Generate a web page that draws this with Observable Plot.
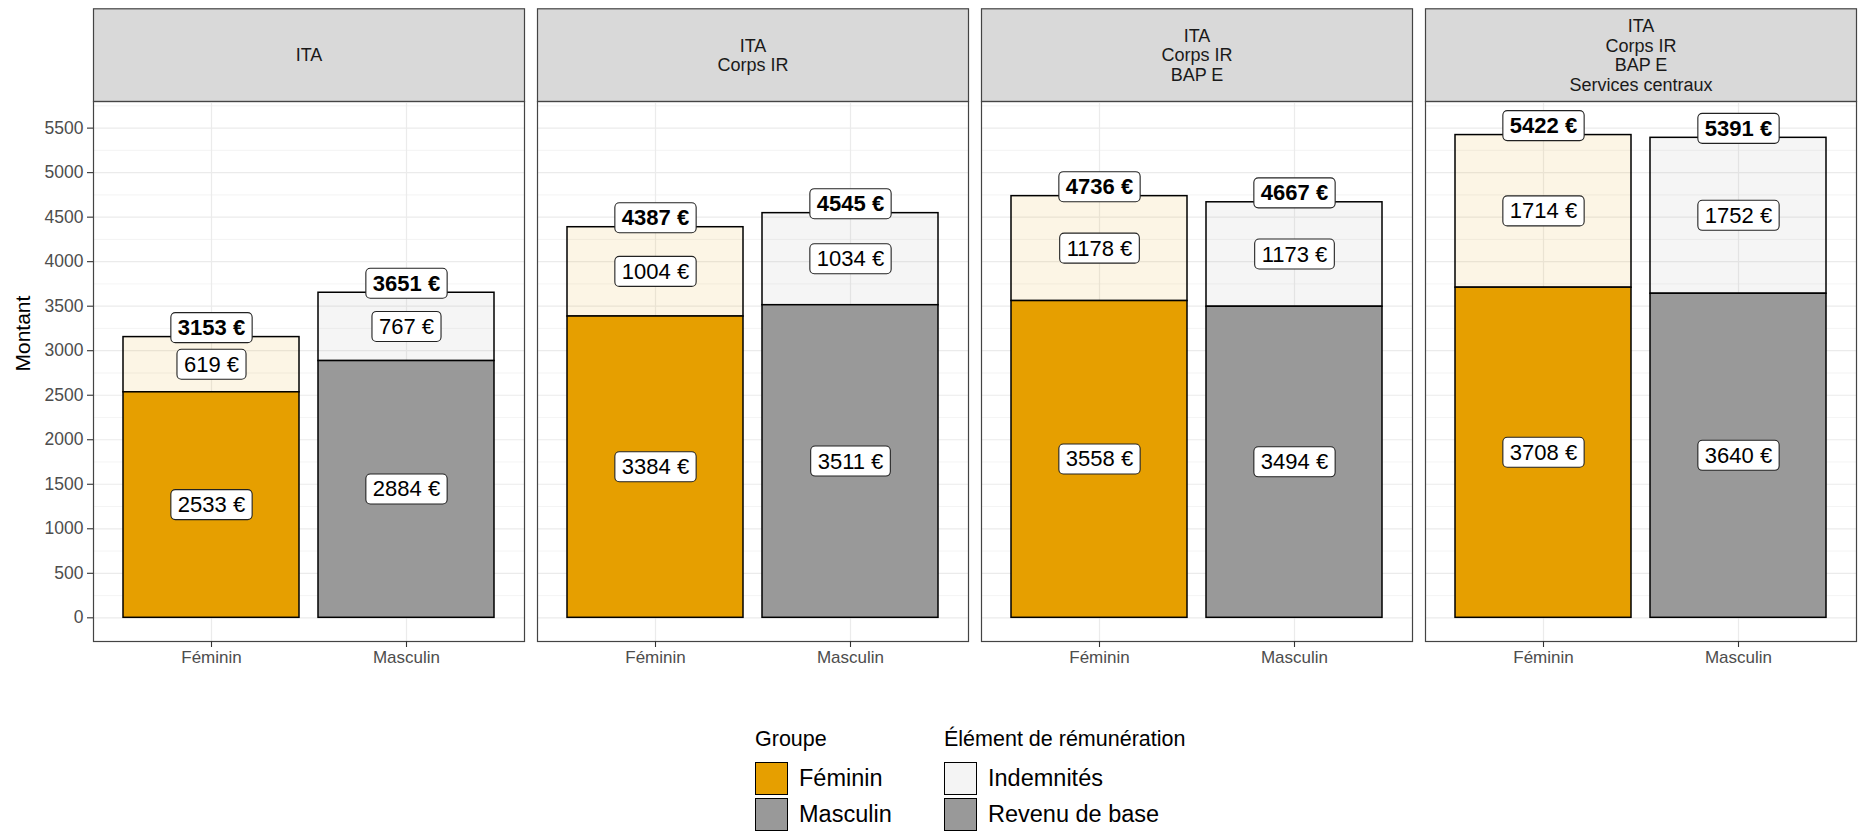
<!DOCTYPE html>
<html>
<head>
<meta charset="utf-8">
<script src="https://cdn.jsdelivr.net/npm/d3@7"></script>
<script src="https://cdn.jsdelivr.net/npm/@observablehq/plot@0.6"></script>
<style>
  body { margin: 0; background: #fff; font-family: "Liberation Sans", Arial, sans-serif; }
  #wrap { position: relative; width: 1859px; height: 832px; overflow: hidden; }
  .legend { position: absolute; top: 726px; color: #000; }
  .ltitle { font-size: 21.5px; height: 27px; line-height: 27px; margin-bottom: 8px; }
  .item { display: flex; align-items: center; height: 35.5px; }
  .sw { width: 31px; height: 31px; border: 1.6px solid #000; margin-right: 11px; }
  .lab { font-size: 23.5px; }
</style>
</head>
<body>
<div id="wrap">
  <div id="chart"></div>
  <div class="legend" id="leg1" style="left:755px"></div>
  <div class="legend" id="leg2" style="left:944px"></div>
</div>
<script>
// ---- Data ----
const panels = ["ITA", "ITA\nCorps IR", "ITA\nCorps IR\nBAP E", "ITA\nCorps IR\nBAP E\nServices centraux"];
const groupes = ["Féminin", "Masculin"];
const elements = ["Indemnités", "Revenu de base"];

const baseFeminin   = [2533, 3384, 3558, 3708];
const baseMasculin  = [2884, 3511, 3494, 3640];
const indemFeminin  = [619, 1004, 1178, 1714];
const indemMasculin = [767, 1034, 1173, 1752];
const totalFeminin  = [3153, 4387, 4736, 5422];
const totalMasculin = [3651, 4545, 4667, 5391];

const yTicks = [0, 500, 1000, 1500, 2000, 2500, 3000, 3500, 4000, 4500, 5000, 5500];
const yMinor = [250, 750, 1250, 1750, 2250, 2750, 3250, 3750, 4250, 4750, 5250, 5750];

const groupColors = ["#E69F00", "#999999"];
const elementColors = ["#F4F4F4", "#999999"];

// ---- Table ----
const rows = [];
panels.forEach((p, i) => {
  rows.push({panel: p, groupe: groupes[0], base: baseFeminin[i], indem: indemFeminin[i], total: totalFeminin[i]});
  rows.push({panel: p, groupe: groupes[1], base: baseMasculin[i], indem: indemMasculin[i], total: totalMasculin[i]});
});

const FONT = "'Liberation Sans', Arial, sans-serif";
const W = 1859, H = 692, mT = 101, mB = 51, mL = 92, mR = 2;
const frameH = H - mT - mB;
const stripH = 92.7;
const gap = 13;
const panelW = (W - mL - mR - gap * (panels.length - 1)) / panels.length;

const chart = Plot.plot({
  width: W,
  height: H,
  marginTop: mT,
  marginBottom: mB,
  marginLeft: mL,
  marginRight: mR,
  style: {fontFamily: FONT, background: "white", color: "#000"},
  fx: {domain: panels, paddingInner: gap / (panelW + gap), paddingOuter: 0, axis: null, label: null},
  x: {domain: groupes, paddingInner: 0.1, paddingOuter: 0.15, align: 0.5, label: null},
  y: {domain: [-266, 5799], label: null},
  color: {domain: groupes, range: groupColors},
  marks: [
    // strip backgrounds
    Plot.frame({fill: "#D9D9D9", stroke: "#444", strokeWidth: 1.2, insetTop: -stripH, insetBottom: frameH}),
    Plot.text(panels, {fx: d => d, text: d => d, frameAnchor: "top", dy: -stripH / 2, lineAnchor: "middle",
      lineHeight: 1.1, fontSize: 18, fill: "#1A1A1A"}),
    // grid
    Plot.gridY(yMinor, {stroke: "#EFEFEF", strokeOpacity: 1, strokeWidth: 0.7}),
    Plot.gridY(yTicks, {stroke: "#EBEBEB", strokeOpacity: 1, strokeWidth: 1.2}),
    Plot.gridX({stroke: "#EBEBEB", strokeOpacity: 1, strokeWidth: 1.2}),
    // bars
    Plot.barY(rows, {fx: "panel", x: "groupe", y1: "base", y2: "total", fill: "groupe", fillOpacity: 0.1,
      stroke: "black", strokeWidth: 1.5}),
    Plot.barY(rows, {fx: "panel", x: "groupe", y1: 0, y2: "base", fill: "groupe", stroke: "black", strokeWidth: 1.5}),
    // panel border
    Plot.frame({stroke: "#444", strokeWidth: 1.2}),
    // axes
    Plot.axisY(yTicks, {tickSize: 6, tickPadding: 4, fontSize: 17.5, color: "#4D4D4D", stroke: "#333",
      strokeWidth: 1.1, label: null, facetAnchor: "left", tickFormat: d => String(d)}),
    Plot.axisX({tickSize: 6, tickPadding: 3, fontSize: 17, color: "#4D4D4D", stroke: "#333",
      strokeWidth: 1.1, label: null}),
    Plot.text(["Montant"], {text: d => d, frameAnchor: "left", rotate: -90, dx: -70, fontSize: 21,
      fill: "#000", facetAnchor: "left"}),
    // value labels
    Plot.text(rows, {fx: "panel", x: "groupe", y: d => d.base / 2, text: d => `${d.base} €`,
      fontSize: 22, fill: "#000"}),
    Plot.text(rows, {fx: "panel", x: "groupe", y: d => (d.base + d.total) / 2, text: d => `${d.indem} €`,
      fontSize: 22, fill: "#000"}),
    Plot.text(rows, {fx: "panel", x: "groupe", y: "total", dy: -9, text: d => `${d.total} €`,
      fontSize: 22, fontWeight: "bold", fill: "#000"})
  ]
});

document.getElementById("chart").append(chart);

// label boxes (ggplot geom_label look)
const svgNS = "http://www.w3.org/2000/svg";
chart.querySelectorAll("text").forEach(t => {
  if (!/€$/.test(t.textContent.trim())) return;
  const bb = t.getBBox();
  const padX = 7, padY = 2.5;
  const r = document.createElementNS(svgNS, "rect");
  r.setAttribute("x", bb.x - padX);
  r.setAttribute("y", bb.y - padY);
  r.setAttribute("width", bb.width + 2 * padX);
  r.setAttribute("height", bb.height + 2 * padY);
  r.setAttribute("rx", 4.5);
  r.setAttribute("fill", "white");
  r.setAttribute("stroke", "#222");
  r.setAttribute("stroke-width", 1.1);
  const tr = t.getAttribute("transform");
  if (tr) r.setAttribute("transform", tr);
  t.parentNode.insertBefore(r, t);
});

// legends
function buildLegend(el, title, labels, colors) {
  const div = document.getElementById(el);
  const h = document.createElement("div");
  h.className = "ltitle";
  h.textContent = title;
  div.append(h);
  labels.forEach((lab, i) => {
    const it = document.createElement("div");
    it.className = "item";
    const sw = document.createElement("div");
    sw.className = "sw";
    sw.style.background = colors[i];
    const tx = document.createElement("div");
    tx.className = "lab";
    tx.textContent = lab;
    it.append(sw, tx);
    div.append(it);
  });
}
buildLegend("leg1", "Groupe", groupes, groupColors);
buildLegend("leg2", "Élément de rémunération", elements, elementColors);
</script>
</body>
</html>
